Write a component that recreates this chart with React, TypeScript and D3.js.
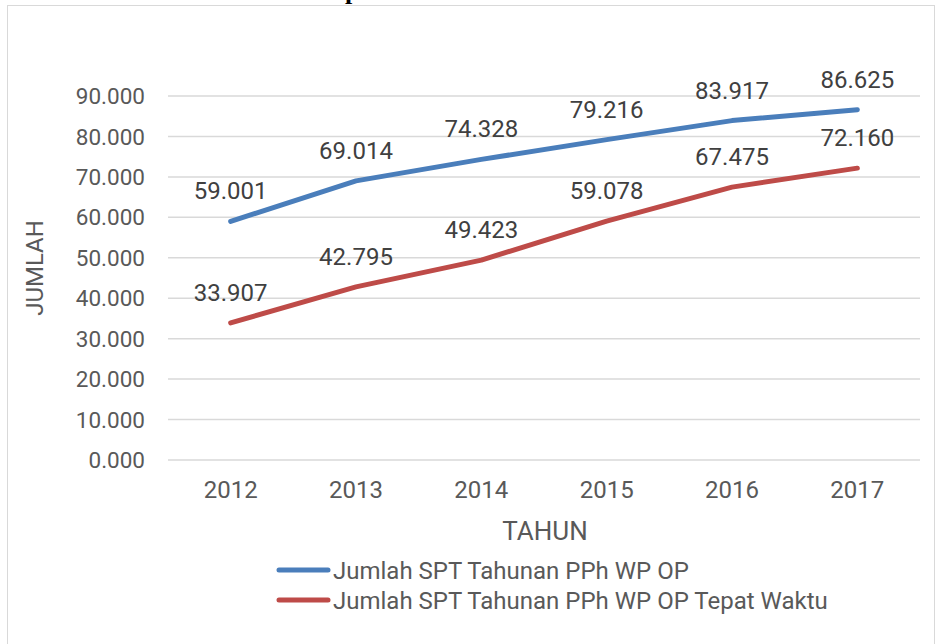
import React, { useEffect } from 'react';
import * as d3 from 'd3';

// data (values in thousands, shown with Indonesian "." separator)
const years = ['2012', '2013', '2014', '2015', '2016', '2017'];
const totalSpt = [59.001, 69.014, 74.328, 79.216, 83.917, 86.625];
const onTimeSpt = [33.907, 42.795, 49.423, 59.078, 67.475, 72.160];
const yTicks = [0, 10, 20, 30, 40, 50, 60, 70, 80, 90];
const seriesNames = [
  'Jumlah SPT Tahunan PPh WP OP',
  'Jumlah SPT Tahunan PPh WP OP Tepat Waktu',
];
const seriesColors = ['#4a7ebb', '#be4b48'];

const W = 937;
const H = 644;
const plot = { left: 168, right: 920, top: 96, bottom: 460 };
const textColor = '#595959';
const font = 'Roboto, "Noto Sans", sans-serif';

const fmt = (v: number) => v.toFixed(3);

const App = () => {
  useEffect(() => {
    document.body.style.margin = '0';
  }, []);

  const x = d3.scaleBand<string>().domain(years).range([plot.left, plot.right]);
  const y = d3.scaleLinear().domain([0, 90]).range([plot.bottom, plot.top]);
  const cx = (yr: string) => (x(yr) ?? 0) + x.bandwidth() / 2;

  const line = d3
    .line<number>()
    .x((_, i) => cx(years[i]))
    .y((d) => y(d));

  const series = [totalSpt, onTimeSpt];

  return (
    <svg width={W} height={H} style={{ display: 'block', fontFamily: font }}>
      <rect x={0} y={0} width={W} height={H} fill="#fff" />
      {/* page title bleeding in from above */}
      <text x={345} y={-1} fontFamily="'Liberation Serif', serif" fontWeight="bold" fontSize={26} fill="#000">
        p
      </text>
      <rect x={7.5} y={5.5} width={927} height={H} fill="none" stroke="#d9d9d9" strokeWidth={1} />

      {yTicks.map((t) => (
        <g key={t}>
          <line x1={plot.left} x2={plot.right} y1={y(t)} y2={y(t)} stroke="#d9d9d9" strokeWidth={1.5} />
          <text x={145} y={y(t)} dy="0.36em" textAnchor="end" fontSize={22.5} fill={textColor}>
            {fmt(t)}
          </text>
        </g>
      ))}

      {years.map((yr) => (
        <text key={yr} x={cx(yr)} y={498} textAnchor="middle" fontSize={24} fill={textColor}>
          {yr}
        </text>
      ))}

      <text x={545} y={540} textAnchor="middle" fontSize={26} fill={textColor}>
        TAHUN
      </text>
      <text
        transform={`translate(${43},${268}) rotate(-90)`}
        textAnchor="middle"
        fontSize={24}
        fill={textColor}
      >
        JUMLAH
      </text>

      {series.map((s, si) => (
        <g key={si}>
          <path d={line(s) ?? ''} fill="none" stroke={seriesColors[si]} strokeWidth={5} strokeLinecap="round" strokeLinejoin="round" />
          {s.map((v, i) => (
            <text key={i} x={cx(years[i])} y={y(v) - 22} textAnchor="middle" fontSize={24} fill="#404040">
              {fmt(v)}
            </text>
          ))}
        </g>
      ))}

      {seriesNames.map((name, i) => (
        <g key={name} transform={`translate(0,${570 + i * 30})`}>
          <line x1={279} x2={328} y1={0} y2={0} stroke={seriesColors[i]} strokeWidth={5} strokeLinecap="round" />
          <text x={333} y={0} dy="0.36em" fontSize={24} fill={textColor}>
            {name}
          </text>
        </g>
      ))}
    </svg>
  );
};

export default App;
